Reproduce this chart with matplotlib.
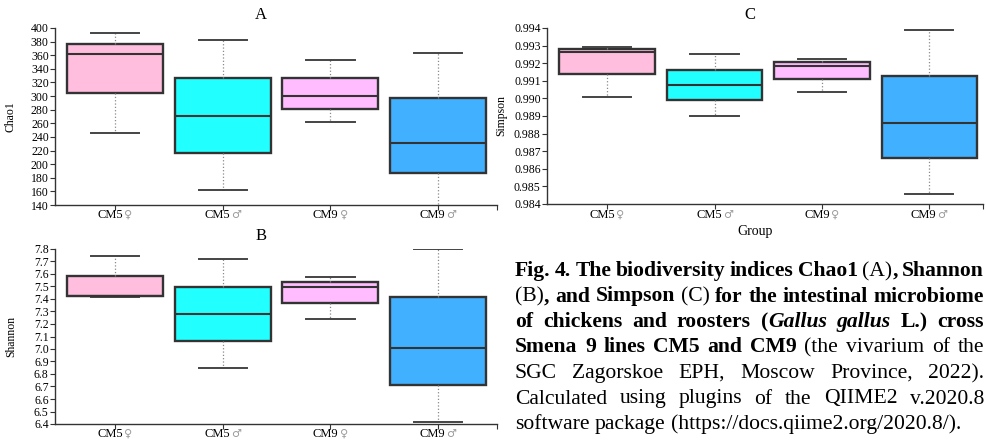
import matplotlib

matplotlib.use("Agg")
import matplotlib.pyplot as plt

FIG_W, FIG_H = 986, 441
SERIF = ["Liberation Serif", "DejaVu Serif"]
SYMBOL_FONT = ["DejaVu Sans"]

GROUPS = ["CM5", "CM5", "CM9", "CM9"]
SEXES = ["\u2640", "\u2642", "\u2640", "\u2642"]
BOX_COLORS = ["#ffbedd", "#22ffff", "#ffbcff", "#40b0ff"]

# five-number summaries
CHAO1_LOW = [246, 161.5, 261.5, 130]
CHAO1_Q1 = [304, 216.5, 281, 186.5]
CHAO1_MED = [362, 271, 300, 231]
CHAO1_Q3 = [377, 327, 327, 297.5]
CHAO1_HIGH = [393, 383, 353, 364]

SHANNON_LOW = [7.415, 6.847, 7.244, 6.413]
SHANNON_Q1 = [7.42, 7.063, 7.369, 6.714]
SHANNON_MED = [7.421, 7.278, 7.497, 7.012]
SHANNON_Q3 = [7.587, 7.497, 7.536, 7.414]
SHANNON_HIGH = [7.744, 7.717, 7.579, 7.797]

SIMPSON_LOW = [0.99009, 0.98901, 0.99036, 0.98455]
SIMPSON_Q1 = [0.99140, 0.98990, 0.99110, 0.98660]
SIMPSON_MED = [0.99265, 0.99074, 0.99182, 0.98863]
SIMPSON_Q3 = [0.99279, 0.99163, 0.99205, 0.99129]
SIMPSON_HIGH = [0.99290, 0.99252, 0.99224, 0.99391]

CHAO1_TICKS = list(range(140, 401, 20))
SHANNON_TICKS = [6.4, 6.5, 6.6, 6.7, 6.8, 6.9, 7.0, 7.1, 7.2, 7.3, 7.4, 7.5, 7.6, 7.7, 7.8]
SIMPSON_TICKS = [0.984, 0.985, 0.986, 0.987, 0.988, 0.989, 0.990, 0.991, 0.992, 0.993, 0.994]

# caption: each line is a list of words, each word a list of (text, style) runs
CAPTION = [
    [[("Fig.", "b")], [("4.", "b")], [("The", "b")], [("biodiversity", "b")], [("indices", "b")],
     [("Chao1", "b")], [("(A)", "n"), (",", "b")], [("Shannon", "b")]],
    [[("(B)", "n"), (",", "b")], [("and", "b")], [("Simpson", "b")], [("(C)", "n")], [("for", "b")],
     [("the", "b")], [("intestinal", "b")], [("microbiome", "b")]],
    [[("of", "b")], [("chickens", "b")], [("and", "b")], [("roosters", "b")],
     [("(", "b"), ("Gallus", "bi")], [("gallus", "bi")], [("L.)", "b")], [("cross", "b")]],
    [[("Smena", "b")], [("9", "b")], [("lines", "b")], [("CM5", "b")], [("and", "b")], [("CM9", "b")],
     [("(the", "n")], [("vivarium", "n")], [("of", "n")], [("the", "n")]],
    [[(w, "n")] for w in "SGC Zagorskoe EPH, Moscow Province, 2022).".split()],
    [[(w, "n")] for w in "Calculated using plugins of the QIIME2 v.2020.8".split()],
    [[(w, "n")] for w in "software package (https://docs.qiime2.org/2020.8/).".split()],
]


def font_kw(style, size):
    return {
        "family": SERIF,
        "fontsize": size,
        "fontweight": "bold" if "b" in style else "normal",
        "fontstyle": "italic" if "i" in style else "normal",
    }


def text_width(fig, renderer, text, style, size, family=None):
    kw = font_kw(style, size)
    if family:
        kw["family"] = family
    t = fig.text(0, 0, text, **kw)
    w = t.get_window_extent(renderer).width
    t.remove()
    return w


def draw_runs(fig, x_px, baseline_px, runs, size, color="black"):
    renderer = fig.canvas.get_renderer()
    for text, style in runs:
        fig.text(x_px / FIG_W, 1 - baseline_px / FIG_H, text, va="baseline", ha="left",
                 color=color, **font_kw(style, size))
        x_px += text_width(fig, renderer, text, style, size)
    return x_px


def draw_caption(fig, left, right, first_baseline, step, size):
    renderer = fig.canvas.get_renderer()
    space = (text_width(fig, renderer, "a a", "n", size) - text_width(fig, renderer, "aa", "n", size))
    for i, words in enumerate(CAPTION):
        widths = [sum(text_width(fig, renderer, t, s, size) for t, s in w) for w in words]
        if i < len(CAPTION) - 1:
            gap = (right - left - sum(widths)) / (len(words) - 1)
        else:
            gap = space
        x = left
        for w, wd in zip(words, widths):
            draw_runs(fig, x, first_baseline + i * step, w, size)
            x += wd + gap


def box_panel(fig, rect, low, q1, med, q3, high, ticks, fmt, ylabel, title, xlim_right):
    ax = fig.add_axes(rect)
    stats = [
        {"whislo": lo, "q1": a, "med": m, "q3": b, "whishi": hi, "fliers": []}
        for lo, a, m, b, hi in zip(low, q1, med, q3, high)
    ]
    parts = ax.bxp(
        stats, positions=range(len(stats)), widths=0.89, capwidths=0.45,
        patch_artist=True, showfliers=False,
        boxprops={"edgecolor": "#333333", "linewidth": 1.7},
        medianprops={"color": "#333333", "linewidth": 1.5},
        whiskerprops={"color": "#8a8a8a", "linewidth": 0.9, "linestyle": ":"},
        capprops={"color": "#444444", "linewidth": 1.4},
    )
    for patch, color in zip(parts["boxes"], BOX_COLORS):
        patch.set_facecolor(color)

    ax.set_xlim(-0.56, xlim_right)
    ax.set_ylim(ticks[0], ticks[-1])
    ax.set_yticks(ticks)
    ax.set_yticklabels([fmt.format(t) for t in ticks], family=SERIF, fontsize=8.5)
    ax.set_xticks([0, 1, 2, 3, xlim_right])
    ax.set_xticklabels([""] * 5)
    ax.tick_params(direction="out", length=3.5, width=0.8, color="#333333", pad=1)
    for side in ["top", "right"]:
        ax.spines[side].set_visible(False)
    for side in ["left", "bottom"]:
        ax.spines[side].set_color("#333333")
        ax.spines[side].set_linewidth(1.0)

    ax.set_ylabel(ylabel, family=SERIF, fontsize=8.5)
    ax.text(0.465, 1.075, title, transform=ax.transAxes, ha="center", va="center",
            family=SERIF, fontsize=12)
    return ax


def label_groups(fig, ax, baseline_px):
    renderer = fig.canvas.get_renderer()
    for i, (group, sex) in enumerate(zip(GROUPS, SEXES)):
        cx = ax.transData.transform((i, 0))[0]
        w1 = text_width(fig, renderer, group, "n", 9)
        w2 = text_width(fig, renderer, sex, "n", 8, family=SYMBOL_FONT)
        x0 = cx - (w1 + w2 + 1) / 2
        fig.text(x0 / FIG_W, 1 - baseline_px / FIG_H, group, va="baseline", **font_kw("n", 9))
        fig.text((x0 + w1 + 1) / FIG_W, 1 - baseline_px / FIG_H, sex, va="baseline",
                 family=SYMBOL_FONT, fontsize=8, color="#9a9a9a")


def main():
    fig = plt.figure(figsize=(FIG_W / 100, FIG_H / 100), dpi=100)
    fig.canvas.draw()

    ax_a = box_panel(fig, [55 / FIG_W, 1 - 205 / FIG_H, 442 / FIG_W, 177 / FIG_H],
                     CHAO1_LOW, CHAO1_Q1, CHAO1_MED, CHAO1_Q3, CHAO1_HIGH,
                     CHAO1_TICKS, "{:d}", "Chao1", "A", 3.55)
    ax_b = box_panel(fig, [55 / FIG_W, 1 - 424 / FIG_H, 442 / FIG_W, 175 / FIG_H],
                     SHANNON_LOW, SHANNON_Q1, SHANNON_MED, SHANNON_Q3, SHANNON_HIGH,
                     SHANNON_TICKS, "{:.1f}", "Shannon", "B", 3.55)
    ax_c = box_panel(fig, [547 / FIG_W, 1 - 204 / FIG_H, 436 / FIG_W, 176 / FIG_H],
                     SIMPSON_LOW, SIMPSON_Q1, SIMPSON_MED, SIMPSON_Q3, SIMPSON_HIGH,
                     SIMPSON_TICKS, "{:.3f}", "Simpson", "C", 3.5)
    ax_a.yaxis.set_label_coords(-0.086, 0.5)
    ax_b.yaxis.set_label_coords(-0.086, 0.5)
    ax_c.yaxis.set_label_coords(-0.092, 0.5)

    fig.canvas.draw()
    label_groups(fig, ax_a, 218)
    label_groups(fig, ax_b, 437)
    label_groups(fig, ax_c, 218)
    fig.text(755 / FIG_W, 1 - 235 / FIG_H, "Group", ha="center", va="baseline",
             family=SERIF, fontsize=10)

    draw_caption(fig, 515, 984, 276, 25.5, 15.6)

    fig.savefig("out.png", dpi=100)
    plt.close(fig)


if __name__ == "__main__":
    main()
